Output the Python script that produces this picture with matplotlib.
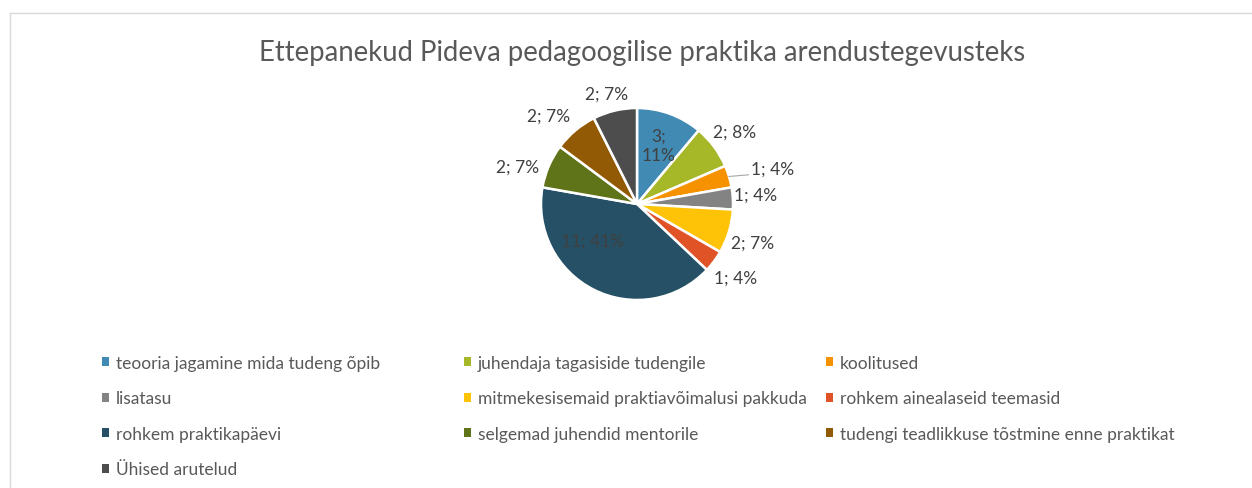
import numpy as np
import matplotlib
matplotlib.use("Agg")
import matplotlib.pyplot as plt
from matplotlib.patches import Patch

plt.rcParams['font.family'] = ['Lato', 'DejaVu Sans']

categories = [
    "teooria jagamine mida tudeng õpib",
    "juhendaja tagasiside tudengile",
    "koolitused",
    "lisatasu",
    "mitmekesisemaid praktiavõimalusi pakkuda",
    "rohkem ainealaseid teemasid",
    "rohkem praktikapäevi",
    "selgemad juhendid mentorile",
    "tudengi teadlikkuse tõstmine enne praktikat",
    "Ühised arutelud",
]
counts = [3, 2, 1, 1, 2, 1, 11, 2, 2, 2]
# percentages as printed on the chart (Excel rounds them to sum to 100)
percents = [11, 8, 4, 4, 7, 4, 41, 7, 7, 7]
colors = ["#418AB3", "#A6B727", "#F69200", "#838383", "#FEC306",
          "#DF5327", "#255066", "#5F7319", "#935A05", "#4D4D4D"]

# label placement: radius factor and angle tweak (deg)
label_r = [0.65, 1.27, 1.46, 1.24, 1.27, 1.28, 0.60, 1.30, 1.30, 1.19]
label_da = [0, 0, -2, 1, -2, 0, -24, 6, 5, 2]

W, H = 1252, 489
fig = plt.figure(figsize=(W / 100, H / 100), dpi=100)

# chart frame (cropped at right and bottom)
fig.add_artist(plt.Line2D([10 / W, 1], [1 - 14 / H, 1 - 14 / H], color="#D9D9D9", lw=1))
fig.add_artist(plt.Line2D([10 / W, 10 / W], [0, 1 - 14 / H], color="#D9D9D9", lw=1))

fig.text(642 / W, 1 - 61 / H, "Ettepanekud Pideva pedagoogilise praktika arendustegevusteks",
         ha="center", va="baseline", fontsize=19.8, color="#595959")

cx, cy, r = 637, 205, 96
ax = fig.add_axes([(cx - r) / W, 1 - (cy + r) / H, 2 * r / W, 2 * r / H])
wedges, _ = ax.pie(counts, colors=colors, startangle=90, counterclock=False,
                   wedgeprops=dict(edgecolor="white", linewidth=1.8))
ax.set_xlim(-1, 1)
ax.set_ylim(-1, 1)
ax.set_aspect("equal")
ax.axis("off")

for i, w in enumerate(wedges):
    mid = (w.theta1 + w.theta2) / 2
    ang = np.deg2rad(mid + label_da[i])
    x, y = label_r[i] * np.cos(ang), label_r[i] * np.sin(ang)
    txt = f"{counts[i]}; {percents[i]}%"
    if i == 0:
        txt = f"{counts[i]};\n{percents[i]}%"
    ax.text(x, y, txt, ha="center", va="center", fontsize=12.5, color="#404040",
            clip_on=False, linespacing=1.3)
    if i == 2:
        m = np.deg2rad(mid)
        ax.plot([1.0 * np.cos(m), 1.2 * np.cos(ang)], [1.0 * np.sin(m), 1.2 * np.sin(ang)],
                color="#A6A6A6", lw=0.8, clip_on=False)

# legend: three fixed-width columns, filled row by row
col_x = [102, 464, 826]
for c in range(3):
    idx = list(range(c, len(categories), 3))
    handles = [Patch(facecolor=colors[i], edgecolor="none") for i in idx]
    labels = [categories[i] for i in idx]
    fig.legend(handles, labels, loc="upper left",
               bbox_to_anchor=(col_x[c] / W, 1 - 356 / H), frameon=False,
               borderpad=0, borderaxespad=0,
               fontsize=12.5, labelcolor="#595959", handlelength=0.43, handleheight=0.43,
               handletextpad=0.35, labelspacing=1.12)

fig.savefig("out.png", dpi=100)
